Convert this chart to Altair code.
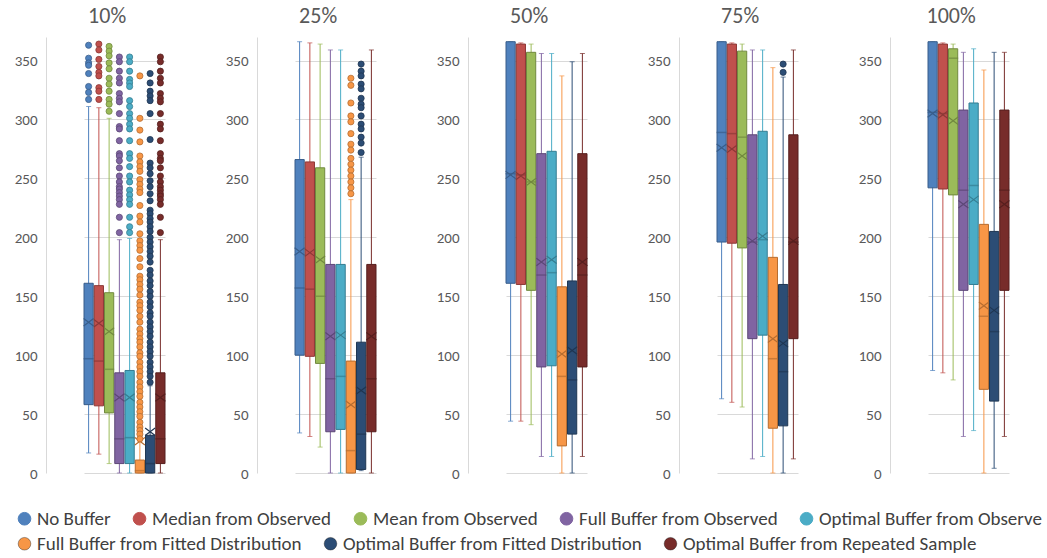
import altair as alt
import pandas as pd

panels = ["10%", "25%", "50%", "75%", "100%"]
series = [
    "No Buffer",
    "Median from Observed",
    "Mean from Observed",
    "Full Buffer from Observed",
    "Optimal Buffer from Observed",
    "Full Buffer from Fitted Distribution",
    "Optimal Buffer from Fitted Distribution",
    "Optimal Buffer from Repeated Sample",
]
colors = ["#4F81BD", "#C0504D", "#9BBB59", "#8064A2", "#4BACC6", "#F79646", "#2C4D75", "#772C2A"]
edges = ["#385D8A", "#8C3836", "#71893F", "#5C4776", "#357D91", "#B66D31", "#1F3652", "#561F1E"]

# one row per panel, one value per series
whisker_low = [
    [17, 16, 8, 0, 0, 0, 0, 0],
    [34, 31, 22, 0, 0, 0, 2, 0],
    [44, 44, 41, 14, 14, 0, 0, 14],
    [63, 60, 56, 12, 14, 0, 0, 12],
    [87, 85, 79, 31, 36, 0, 4, 31],
]
q1 = [
    [58, 57, 51, 8, 8, 0, 0, 8],
    [100, 99, 93, 35, 37, 0, 3, 35],
    [161, 160, 155, 90, 91, 23, 33, 90],
    [196, 195, 191, 114, 117, 38, 40, 114],
    [242, 241, 236, 155, 160, 71, 61, 155],
]
median = [
    [97, 95, 88, 29, 30, 2, 8, 29],
    [157, 156, 150, 80, 82, 19, 33, 80],
    [254, 253, 247, 168, 170, 82, 79, 168],
    [289, 288, 285, 196, 198, 97, 86, 196],
    [306, 305, 352, 240, 244, 133, 120, 240],
]
q3 = [
    [161, 159, 153, 85, 87, 11, 32, 85],
    [266, 264, 259, 177, 177, 95, 111, 177],
    [366, 364, 357, 271, 273, 158, 163, 271],
    [366, 364, 358, 287, 290, 183, 160, 287],
    [366, 364, 360, 308, 314, 211, 205, 308],
]
whisker_high = [
    [311, 310, 301, 198, 199, 27, 74, 198],
    [366, 365, 364, 359, 359, 232, 268, 359],
    [366, 365, 364, 356, 356, 337, 349, 356],
    [366, 365, 364, 359, 359, 344, 336, 359],
    [366, 365, 364, 357, 360, 342, 357, 357],
]
mean = [
    [128, 127, 120, 64, 64, 27, 35, 64],
    [188, 187, 181, 116, 117, 58, 70, 116],
    [253, 252, 247, 179, 181, 101, 104, 179],
    [276, 275, 269, 197, 201, 114, 110, 197],
    [305, 304, 299, 228, 232, 142, 138, 228],
]

# outliers: (panel, series index) -> values
out_10_s1 = [363, 352, 348, 346, 339, 328, 323, 317]
out_10_s2 = [364, 359, 351, 345, 340, 337, 327, 324, 317]
out_10_s3 = [362, 358, 354, 348, 343, 335, 330, 324, 317, 313, 307]
out_10_s4 = [353, 349, 341, 335, 331, 322, 318, 315, 305, 294, 292, 282, 271, 269, 265,
             259, 252, 247, 243, 241, 238, 235, 232, 228, 217, 204]
out_10_s5 = [353, 349, 341, 334, 331, 328, 316, 311, 305, 301, 296, 292, 282, 271, 267,
             260, 252, 247, 240, 236, 232, 228, 217, 209, 204]
out_10_s6 = [337, 301, 291, 281, 269, 264, 260, 256, 249, 245, 241, 238, 227, 218, 213,
             203, 197, 193, 189, 182, 175, 167, 164, 160, 156, 151, 145, 142, 138, 133,
             128, 122, 118, 114, 111, 107, 102, 99, 94, 90, 86, 82, 77, 73, 69, 65, 60,
             56, 52, 48, 43, 39, 36, 33, 29]
out_10_s7 = [339, 331, 324, 320, 316, 305, 283, 263, 259, 254, 248, 243, 237, 231, 223,
             220, 216, 213, 209, 205, 200, 196, 192, 188, 184, 179, 172, 168, 163, 159,
             154, 150, 145, 141, 136, 133, 128, 124, 120, 116, 111, 107, 103, 99, 94, 90,
             86, 82, 77]
out_10_s8 = [353, 349, 341, 335, 331, 322, 318, 315, 305, 296, 292, 282, 271, 267, 265,
             259, 252, 247, 243, 240, 237, 235, 232, 228, 217, 204]
out_25_s6 = [335, 329, 314, 303, 298, 288, 279, 274, 267, 262, 257, 252, 247, 242, 237]
out_25_s7 = [347, 341, 337, 330, 326, 318, 313, 310, 303, 296, 292, 285, 280, 272]
out_75_s7 = [347, 340]

outliers = {
    ("10%", 0): out_10_s1, ("10%", 1): out_10_s2, ("10%", 2): out_10_s3,
    ("10%", 3): out_10_s4, ("10%", 4): out_10_s5, ("10%", 5): out_10_s6,
    ("10%", 6): out_10_s7, ("10%", 7): out_10_s8,
    ("25%", 5): out_25_s6, ("25%", 6): out_25_s7,
    ("75%", 6): out_75_s7,
}

rows = []
for pi, p in enumerate(panels):
    for si, s in enumerate(series):
        rows.append(dict(panel=p, series=s, series_b=s, low=whisker_low[pi][si],
                         q1=q1[pi][si], median=median[pi][si], q3=q3[pi][si],
                         high=whisker_high[pi][si], mean=mean[pi][si]))
stats = pd.DataFrame(rows)

orows = []
for (p, si), vals in outliers.items():
    for v in vals:
        orows.append(dict(panel=p, series=series[si], value=v))
outs = pd.DataFrame(orows)

FONT = "Carlito, 'Liberation Sans Narrow', 'Liberation Sans', sans-serif"
GREY = "#595959"

row1 = series[:5]
row2 = series[5:]

xscale = alt.Scale(domain=series, range=[38, 119], paddingInner=0.1, paddingOuter=0)
yscale = alt.Scale(domain=[0, 370], nice=False, zero=True)
cscale = alt.Scale(domain=series, range=colors)
fscale = alt.Scale(domain=row2, range=colors[5:])
sscale = alt.Scale(domain=series, range=edges)

legend_common = dict(
    orient="none", direction="horizontal", title=None, symbolType="circle",
    symbolSize=160, symbolStrokeWidth=1, symbolStrokeColor="rgba(0,0,0,0.35)",
    labelFontSize=19, labelFont=FONT, labelColor="#404040", columnPadding=19,
    labelOffset=3, labelLimit=0, symbolOpacity=1, padding=0,
)
legend_row1 = alt.Legend(
    values=row1, legendX=-31, legendY=472,
    labelExpr="datum.label == 'Optimal Buffer from Observed' ? 'Optimal Buffer from Observe' : datum.label",
    **legend_common)
legend_row2 = alt.Legend(legendX=-31, legendY=497, **legend_common)


def col():
    return alt.Color("series:N", scale=cscale, legend=legend_row1)


def edge():
    return alt.Stroke("series:N", scale=sscale, legend=None)


def panel_chart(p):
    sd = stats[stats.panel == p]
    od = outs[outs.panel == p]
    x = alt.X("series:N", scale=xscale, axis=None, sort=series)
    yaxis = alt.Axis(values=[0, 50, 100, 150, 200, 250, 300, 350], grid=True,
                     gridColor="#D9D9D9", domainColor="#D9D9D9", ticks=False,
                     labelColor=GREY, labelFontSize=15, labelFont=FONT,
                     labelPadding=9, title=None)
    base = alt.Chart(sd)
    whisk = base.mark_rule(strokeWidth=1).encode(
        x=x, y=alt.Y("low:Q", scale=yscale, axis=yaxis), y2="high:Q", color=col())
    cap_lo = base.mark_tick(size=5, thickness=1).encode(
        x=x, y=alt.Y("low:Q", scale=yscale), color=col())
    cap_hi = base.mark_tick(size=5, thickness=1).encode(
        x=x, y=alt.Y("high:Q", scale=yscale), color=col())
    box = base.mark_bar(strokeWidth=1).encode(
        x=x, y=alt.Y("q1:Q", scale=yscale), y2="q3:Q", color=col(), stroke=edge())
    med = base.mark_tick(size=9, thickness=0.4, filled=False, strokeWidth=1.1).encode(
        x=x, y=alt.Y("median:Q", scale=yscale), stroke=edge())
    mn = base.mark_point(shape="M-1,-0.75L1,0.75M1,-0.75L-1,0.75", filled=False,
                         size=100, strokeWidth=1.2, opacity=1).encode(
        x=x, y=alt.Y("mean:Q", scale=yscale), stroke=edge())
    legend_carrier = alt.Chart(sd[sd.series_b.isin(row2)]).mark_point(
        opacity=0, size=1, filled=True).encode(
        x=x, y=alt.Y("mean:Q", scale=yscale),
        fill=alt.Fill("series_b:N", scale=fscale, legend=legend_row2))
    layers = [whisk, cap_lo, cap_hi, box, med, mn, legend_carrier]
    if len(od):
        pts = alt.Chart(od).mark_point(filled=True, size=38, strokeWidth=0.8, opacity=1).encode(
            x=x, y=alt.Y("value:Q", scale=yscale), color=col(), stroke=edge())
        layers.append(pts)
    return alt.layer(*layers).properties(
        width=154, height=436,
        title=alt.TitleParams(p, fontSize=22, color=GREY, font=FONT, fontWeight="normal",
                              frame="bounds", anchor="middle", offset=9),
    )


chart = alt.hconcat(*[panel_chart(p) for p in panels], spacing=25)
chart = chart.resolve_scale(color="shared", stroke="shared", fill="shared").properties(
    padding={"left": 14, "top": 5, "right": 0, "bottom": 0}, background="white"
).configure_view(stroke=None)

chart.save("out.html", embed_options={"renderer": "svg", "actions": False})
